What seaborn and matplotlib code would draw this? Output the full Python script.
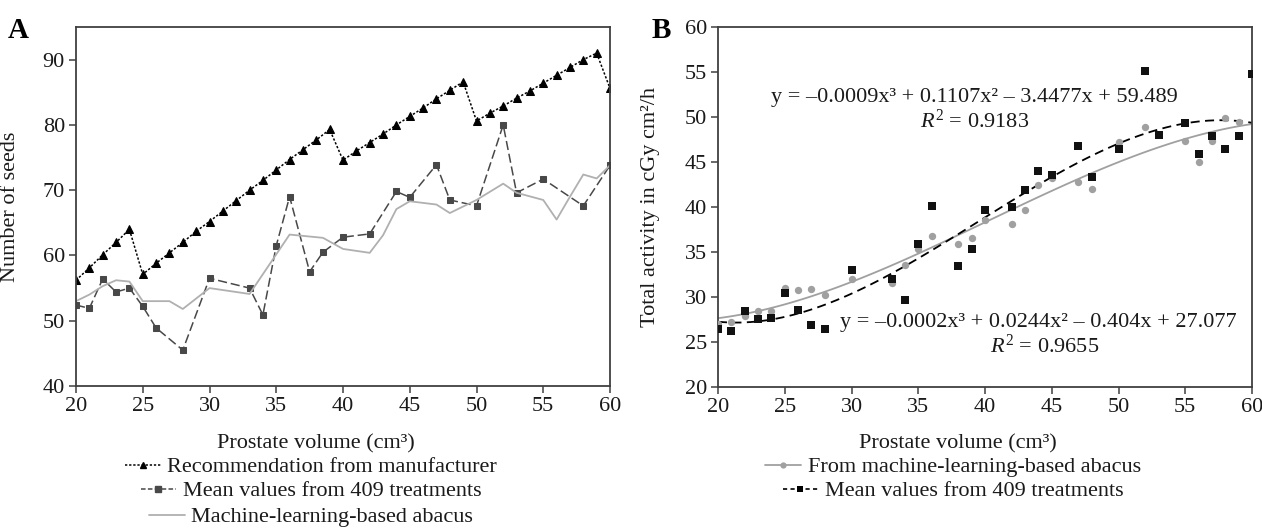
import matplotlib
matplotlib.use("Agg")
import matplotlib.pyplot as plt
import seaborn as sns
from matplotlib.lines import Line2D

# ---------------- Panel A data ----------------
rec_x = list(range(20, 61))
rec_y = [56.2, 58.1, 60.1, 62.0, 64.0, 57.1, 58.8, 60.4, 62.0, 63.7,
         65.2, 66.8, 68.4, 70.0, 71.5, 73.1, 74.7, 76.2, 77.7, 79.3,
         74.6, 76.0, 77.3, 78.6, 80.0, 81.3, 82.6, 84.0, 85.3, 86.6,
         80.6, 81.8, 82.9, 84.1, 85.2, 86.4, 87.6, 88.8, 90.0, 91.0,
         85.6]

meanA_x = [20, 21, 22, 23, 24, 25, 26, 28, 30, 33, 34, 35, 36, 37.5, 38.5,
           40, 42, 44, 45, 47, 48, 50, 52, 53, 55, 58, 60]
meanA_y = [52.4, 51.9, 56.4, 54.4, 55.0, 52.2, 48.9, 45.5, 56.5, 55.0, 50.9,
           61.5, 69.0, 57.5, 60.5, 62.8, 63.3, 69.8, 68.9, 73.9, 68.5, 67.6,
           80.0, 69.6, 71.7, 67.6, 73.8]

mlA_x = [20, 21, 22, 23, 24, 25, 26, 27, 28, 30, 33, 36, 38.5, 40, 42, 43,
         44, 45, 47, 48, 50, 52, 53, 55, 56, 57, 58, 59, 60]
mlA_y = [53.0, 54.0, 55.3, 56.2, 56.0, 53.0, 53.0, 53.0, 51.8, 55.0, 54.1,
         63.2, 62.7, 61.0, 60.4, 63.1, 67.1, 68.3, 67.8, 66.5, 68.5, 71.0,
         69.6, 68.5, 65.5, 69.0, 72.4, 71.8, 73.8]

labelsA = ["Recommendation from manufacturer",
           "Mean values from 409 treatments",
           "Machine-learning-based abacus"]

# ---------------- Panel B data ----------------
mlB_x = [20, 21, 22, 23, 24, 25, 26, 27, 28, 30, 33, 34, 35, 36, 38, 39, 40,
         42, 43, 44, 45, 47, 48, 50, 52, 55, 56, 57, 58, 59]
mlB_y = [27.0, 27.2, 27.9, 28.4, 28.4, 31.0, 30.8, 30.9, 30.2, 32.0, 31.5,
         33.5, 35.3, 36.8, 35.9, 36.5, 38.6, 38.1, 39.7, 42.4, 43.2, 42.8,
         42.0, 47.2, 48.9, 47.3, 45.0, 47.3, 49.9, 49.5]

meanB_x = [20, 21, 22, 23, 24, 25, 26, 27, 28, 30, 33, 34, 35, 36, 38, 39,
           40, 42, 43, 44, 45, 47, 48, 50, 52, 53, 55, 56, 57, 58, 59, 60]
meanB_y = [26.45, 26.2, 28.4, 27.5, 27.7, 30.4, 28.5, 26.9, 26.4, 33.0, 32.0,
           29.7, 35.9, 40.1, 33.4, 35.3, 39.7, 40.0, 41.9, 44.0, 43.6, 46.8,
           43.3, 46.5, 55.1, 48.0, 49.4, 45.9, 47.9, 46.5, 47.9, 54.8]

labelsB = ["From machine-learning-based abacus",
           "Mean values from 409 treatments"]

eq_mean = "y = \u20130.0009x\u00b3 + 0.1107x\u00b2 \u2013 3.4477x + 59.489"
r2_mean = "$R^2$ = 0.9183"
eq_ml = "y = \u20130.0002x\u00b3 + 0.0244x\u00b2 \u2013 0.404x + 27.077"
r2_ml = "$R^2$ = 0.9655"

# ---------------- style ----------------
sns.set_style("ticks")
plt.rcParams['font.family'] = ['Liberation Serif', 'DejaVu Serif']
plt.rcParams['mathtext.fontset'] = 'custom'
plt.rcParams['mathtext.rm'] = 'Liberation Serif'
plt.rcParams['mathtext.it'] = 'Liberation Serif:italic'

FS = 16
TXT = '#1a1a1a'
SPINE = '#404040'

W, H = 1262, 530
fig = plt.figure(figsize=(W / 100, H / 100), dpi=100)
axA = fig.add_axes([76 / W, 1 - 386 / H, 534 / W, 359 / H])
axB = fig.add_axes([718 / W, 1 - 386.7 / H, 534 / W, 359.4 / H])

# ---------------- Panel A ----------------
sns.lineplot(x=rec_x, y=rec_y, ax=axA, color='black', lw=1.1,
             linestyle=(0, (1.5, 1.2)), marker='^', markersize=5.2,
             markeredgecolor='black', errorbar=None)
sns.lineplot(x=meanA_x, y=meanA_y, ax=axA, color='#484848', lw=1.1,
             linestyle=(0, (6, 2.5)), marker='s', markersize=4.6,
             markeredgecolor='#484848', errorbar=None)
sns.lineplot(x=mlA_x, y=mlA_y, ax=axA, color='#b0b0b0', lw=1.3,
             errorbar=None)

axA.set_xlim(20, 60)
axA.set_ylim(40, 95)
axA.set_xticks(range(20, 61, 5))
axA.set_yticks(range(40, 91, 10))
axA.set_xlabel("Prostate volume (cm\u00b3)", fontsize=FS, color=TXT)
axA.set_ylabel("Number of seeds", fontsize=FS, color=TXT)
axA.xaxis.set_label_coords(0.45, -0.135)
axA.yaxis.set_label_coords(-0.105, 0.5)

# ---------------- Panel B ----------------
axB.set_xlim(20, 60)
axB.set_ylim(20, 60)
sns.regplot(x=mlB_x, y=mlB_y, ax=axB, order=3, ci=None, scatter=False,
            truncate=False, line_kws=dict(color='#a0a0a0', lw=1.3))
sns.regplot(x=meanB_x, y=meanB_y, ax=axB, order=3, ci=None, scatter=False,
            truncate=False, line_kws=dict(color='black', lw=1.3,
                                          linestyle=(0, (5, 3))))
sns.scatterplot(x=mlB_x, y=mlB_y, ax=axB, color='#a0a0a0', marker='o',
                s=28, linewidth=0, zorder=3)
sns.scatterplot(x=meanB_x, y=meanB_y, ax=axB, color='#111111', marker='s',
                s=36, linewidth=0, zorder=4)
axB.set_xlim(20, 60)
axB.set_ylim(20, 60)
axB.set_xticks(range(20, 61, 5))
axB.set_yticks(range(20, 61, 5))
axB.set_xlabel("Prostate volume (cm\u00b3)", fontsize=FS, color=TXT)
axB.set_ylabel("Total activity in cGy cm\u00b2/h", fontsize=FS, color=TXT)
axB.xaxis.set_label_coords(0.45, -0.133)
axB.yaxis.set_label_coords(-0.108, 0.5)

axB.text(39.2, 52.2, eq_mean, ha='center', va='center', fontsize=FS, color=TXT)
axB.text(39.2, 49.6, r2_mean, ha='center', va='center', fontsize=FS, color=TXT)
axB.text(44.0, 27.2, eq_ml, ha='center', va='center', fontsize=FS, color=TXT)
axB.text(44.5, 24.5, r2_ml, ha='center', va='center', fontsize=FS, color=TXT)

for ax in (axA, axB):
    for s in ax.spines.values():
        s.set_visible(True)
        s.set_color(SPINE)
        s.set_linewidth(1.3)
    ax.tick_params(direction='out', length=5, width=1.1, color=SPINE,
                   labelsize=FS, labelcolor=TXT, pad=3)
    if ax.get_legend() is not None:
        ax.get_legend().remove()

# ---------------- legends (each row centred) ----------------
handlesA = [
    Line2D([], [], color='black', lw=1.1, linestyle=(0, (1.5, 1.2)),
           marker='^', markersize=4.5),
    Line2D([], [], color='#484848', lw=1.1, linestyle=(0, (3, 1.5)),
           marker='s', markersize=4),
    Line2D([], [], color='#b0b0b0', lw=1.3),
]
rowsA_y = [467, 491, 517]
for h, lab, yy in zip(handlesA, labelsA, rowsA_y):
    fig.legend([h], [lab], loc='center', bbox_to_anchor=(311 / W, 1 - yy / H),
               frameon=False, fontsize=FS, handlelength=1.6,
               handletextpad=0.3, borderpad=0, borderaxespad=0,
               labelcolor=TXT)

handlesB = [
    Line2D([], [], color='#a0a0a0', lw=1.3, marker='o', markersize=4.5,
           markeredgewidth=0),
    Line2D([], [], color='black', lw=1.2, linestyle=(0, (2.5, 2)),
           marker='s', markersize=5, markeredgewidth=0),
]
rowsB_y = [467, 491]
for h, lab, yy in zip(handlesB, labelsB, rowsB_y):
    fig.legend([h], [lab], loc='center', bbox_to_anchor=(953 / W, 1 - yy / H),
               frameon=False, fontsize=FS, handlelength=1.6,
               handletextpad=0.3, borderpad=0, borderaxespad=0,
               labelcolor=TXT)

# panel letters
fig.text(8 / W, 1 - 30 / H, "A", fontsize=21, fontweight='bold', va='center',
         color='black')
fig.text(652 / W, 1 - 30 / H, "B", fontsize=21, fontweight='bold', va='center',
         color='black')

fig.savefig("out.png", dpi=100)
